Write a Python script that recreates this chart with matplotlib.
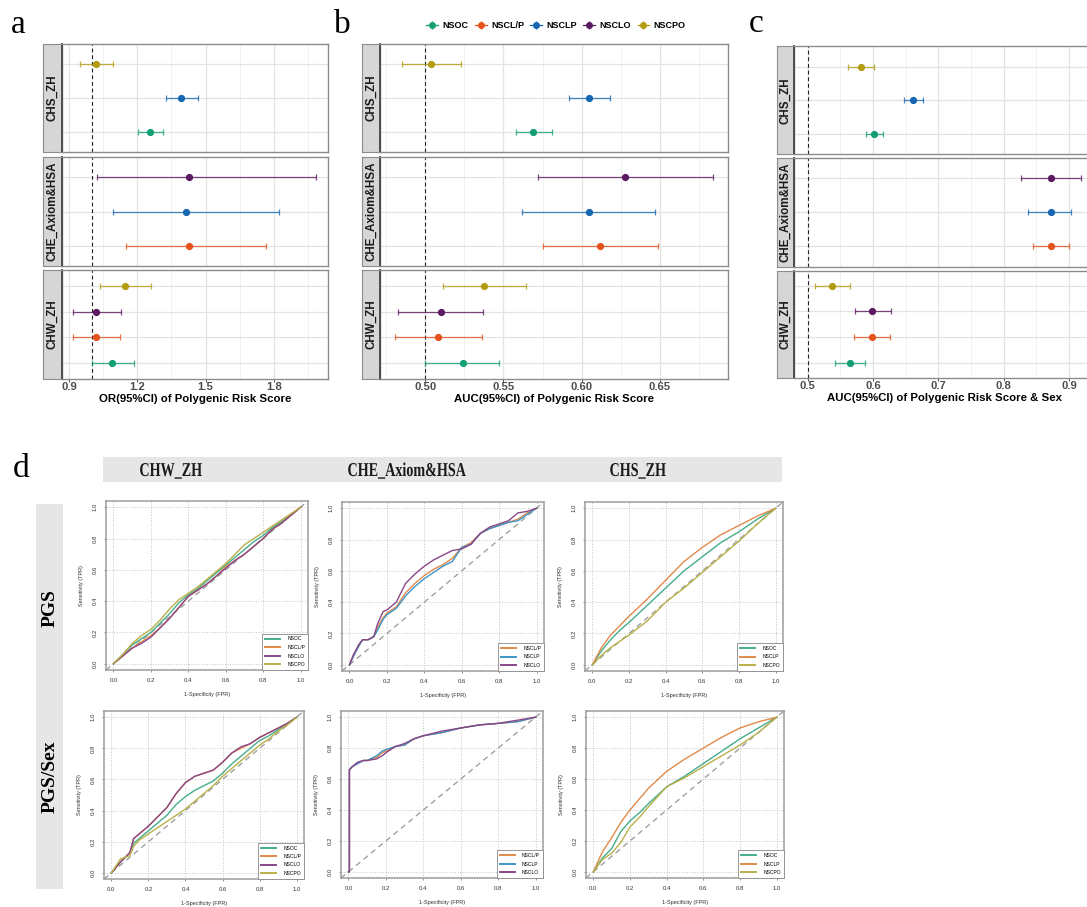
import matplotlib.pyplot as plt
from matplotlib.lines import Line2D
from matplotlib.patches import Rectangle, PathPatch
from matplotlib.textpath import TextPath
from matplotlib.font_manager import FontProperties
from matplotlib.transforms import Affine2D
from matplotlib.legend_handler import HandlerTuple

plt.rcParams['font.family'] = ['Liberation Sans', 'DejaVu Sans']

W, H = 1087, 907

# ---------------- forest plots (a, b, c) ----------------
facets = ['CHS_ZH', 'CHE_Axiom&HSA', 'CHW_ZH']
groups = ['NSOC', 'NSCL/P', 'NSCLP', 'NSCLO', 'NSCPO']
group_colors = ['#139f75', '#e5521d', '#1667b2', '#5c1a60', '#b39c12']

# one row per estimate, bottom to top inside each facet
row_facet = ['CHS_ZH', 'CHS_ZH', 'CHS_ZH',
             'CHE_Axiom&HSA', 'CHE_Axiom&HSA', 'CHE_Axiom&HSA',
             'CHW_ZH', 'CHW_ZH', 'CHW_ZH', 'CHW_ZH']
row_group = ['NSOC', 'NSCLP', 'NSCPO',
             'NSCL/P', 'NSCLP', 'NSCLO',
             'NSOC', 'NSCL/P', 'NSCLO', 'NSCPO']

# a: OR of PRS
or_mid = [1.256, 1.394, 1.017, 1.425, 1.413, 1.426, 1.089, 1.017, 1.020, 1.145]
or_lo = [1.202, 1.324, 0.948, 1.151, 1.095, 1.023, 1.001, 0.918, 0.918, 1.038]
or_hi = [1.313, 1.467, 1.092, 1.766, 1.822, 1.986, 1.186, 1.126, 1.129, 1.262]

# b: AUC of PRS
auc_mid = [0.5688, 0.6047, 0.5038, 0.6120, 0.6047, 0.6278, 0.5239, 0.5079, 0.5100, 0.5378]
auc_lo = [0.5577, 0.5919, 0.4848, 0.5756, 0.5618, 0.5718, 0.5000, 0.4808, 0.4823, 0.5111]
auc_hi = [0.5808, 0.6180, 0.5231, 0.6489, 0.6468, 0.6840, 0.5470, 0.5361, 0.5368, 0.5641]

# c: AUC of PRS & sex
auc_sex_mid = [0.6018, 0.6616, 0.5818, 0.872, 0.872, 0.872, 0.5655, 0.5982, 0.5992, 0.5379]
auc_sex_lo = [0.5895, 0.6478, 0.5619, 0.845, 0.838, 0.827, 0.5425, 0.5711, 0.5721, 0.5118]
auc_sex_hi = [0.6146, 0.6760, 0.6013, 0.900, 0.904, 0.918, 0.5885, 0.6253, 0.6269, 0.5650]

# ---------------- ROC curves (d) ----------------
teal, orange, blue, purple, olive = '#45ad8c', '#e08a4c', '#3c96c8', '#8a4787', '#b8b04a'

# PGS row
chw_pgs_fpr = [0, .05, .1, .15, .2, .25, .3, .35, .4, .45, .5, .55, .6, .65, .7, .75, .8, .85, .9, .95, 1]
chw_pgs_nsoc = [0, .06, .12, .16, .20, .26, .32, .39, .44, .48, .53, .58, .63, .68, .73, .78, .82, .87, .91, .95, 1]
chw_pgs_nscl_p = [0, .05, .10, .14, .18, .23, .29, .36, .43, .47, .51, .56, .62, .66, .70, .75, .80, .86, .90, .95, 1]
chw_pgs_nsclo = [0, .05, .10, .13, .17, .23, .29, .36, .43, .47, .51, .56, .61, .66, .70, .75, .80, .86, .90, .95, 1]
chw_pgs_nscpo = [0, .06, .13, .18, .22, .28, .35, .41, .45, .49, .54, .59, .64, .70, .76, .80, .84, .88, .92, .96, 1]

che_pgs_fpr = [0, .02, .05, .07, .1, .13, .15, .18, .2, .25, .3, .35, .4, .45, .5, .55, .6, .65, .7, .75, .8, .85, .9, .95, 1]
che_pgs_nscl_p = [0, .06, .12, .16, .16, .18, .24, .30, .33, .37, .46, .52, .57, .61, .64, .68, .75, .78, .84, .87, .89, .91, .93, .97, 1]
che_pgs_nsclp = [0, .05, .12, .16, .16, .18, .22, .29, .32, .36, .44, .50, .55, .59, .63, .66, .75, .77, .84, .87, .89, .91, .92, .96, 1]
che_pgs_nsclo = [0, .06, .13, .16, .16, .18, .26, .34, .35, .40, .52, .58, .63, .67, .70, .73, .74, .77, .84, .88, .90, .92, .97, .98, 1]

chs_pgs_fpr = [0, .05, .1, .15, .2, .3, .4, .5, .6, .7, .8, .9, 1]
chs_pgs_nsoc = [0, .09, .16, .22, .27, .38, .49, .60, .69, .78, .85, .93, 1]
chs_pgs_nsclp = [0, .11, .19, .25, .31, .42, .54, .66, .75, .83, .89, .95, 1]
chs_pgs_nscpo = [0, .06, .11, .15, .19, .28, .40, .49, .59, .69, .79, .90, 1]

# PGS/Sex row
chw_sex_fpr = [0, .05, .1, .12, .15, .2, .25, .3, .35, .4, .45, .5, .55, .6, .65, .7, .75, .8, .85, .9, .95, 1]
chw_sex_nsoc = [0, .07, .13, .19, .22, .27, .32, .37, .44, .49, .53, .56, .59, .64, .70, .75, .80, .85, .88, .92, .96, 1]
chw_sex_nscl_p = [0, .07, .13, .22, .25, .30, .36, .42, .51, .58, .62, .64, .66, .71, .77, .80, .83, .87, .90, .93, .96, 1]
chw_sex_nsclo = [0, .07, .13, .22, .25, .30, .36, .42, .51, .58, .62, .64, .66, .71, .77, .81, .83, .87, .90, .93, .96, 1]
chw_sex_nscpo = [0, .09, .11, .17, .21, .25, .29, .33, .37, .41, .46, .51, .56, .62, .67, .72, .77, .82, .86, .91, .95, 1]

che_sex_fpr = [0, .005, .005, .02, .05, .08, .1, .15, .18, .2, .25, .3, .35, .4, .5, .6, .7, .8, .9, 1]
che_sex_nscl_p = [0, 0, .66, .68, .70, .72, .72, .74, .77, .78, .81, .82, .86, .88, .90, .93, .95, .96, .97, 1]
che_sex_nsclp = [0, 0, .66, .68, .70, .72, .72, .75, .78, .79, .81, .82, .86, .88, .90, .93, .95, .96, .97, 1]
che_sex_nsclo = [0, 0, .66, .68, .71, .72, .72, .73, .75, .77, .81, .83, .86, .88, .91, .93, .95, .96, .98, 1]

chs_sex_fpr = [0, .05, .1, .15, .2, .25, .3, .4, .5, .6, .7, .8, .9, 1]
chs_sex_nsoc = [0, .09, .15, .26, .33, .38, .44, .55, .62, .70, .78, .86, .93, 1]
chs_sex_nsclp = [0, .13, .22, .32, .40, .47, .54, .65, .73, .80, .87, .93, .97, 1]
chs_sex_nscpo = [0, .08, .12, .19, .29, .35, .42, .55, .61, .68, .75, .82, .90, 1]

fig = plt.figure(figsize=(W / 100, H / 100), dpi=100)


def px_axes(x0, y0, x1, y1):
    return fig.add_axes([x0 / W, 1 - y1 / H, (x1 - x0) / W, (y1 - y0) / H])


def forest_panel(strip_x0, x0, x1, facet_y, mid, lo, hi, xlim, majors, labels, minors, ref, xlabel):
    for k, f in enumerate(facets):
        y0, y1 = facet_y[k]
        ax = px_axes(x0, y0, x1, y1)
        rows = [i for i in range(len(row_facet)) if row_facet[i] == f]
        for j, i in enumerate(rows):
            col = group_colors[groups.index(row_group[i])]
            ax.errorbar([mid[i]], [j], xerr=[[mid[i] - lo[i]], [hi[i] - mid[i]]], fmt='none',
                        ecolor=col, elinewidth=0.9, capsize=2.2, capthick=0.9, alpha=0.8, zorder=3)
            ax.plot([mid[i]], [j], 'o', color=col, ms=4.2, zorder=4)
        ax.axvline(ref, color='#222222', ls=(0, (3.5, 2.5)), lw=0.8, zorder=2)
        ax.set_xlim(xlim)
        ax.set_ylim(-0.6, len(rows) - 0.4)
        ax.set_yticks(range(len(rows)))
        ax.set_xticks(majors)
        ax.set_xticks(minors, minor=True)
        ax.grid(True, which='major', color='#e3e3e3', lw=0.9)
        ax.grid(True, which='minor', axis='x', color='#efefef', lw=0.6)
        ax.set_axisbelow(True)
        ax.tick_params(axis='y', length=0, labelleft=False)
        ax.tick_params(axis='x', which='minor', length=0)
        for s in ax.spines.values():
            s.set_color('#8c8c8c')
            s.set_linewidth(1.0)
        if k < 2:
            ax.tick_params(axis='x', length=0, labelbottom=False)
        else:
            ax.set_xticklabels(labels)
            ax.tick_params(axis='x', length=2, width=0.6, color='#333333', pad=0.5,
                           labelsize=8.1, labelcolor='#4d4d4d')
            for t in ax.get_xticklabels():
                t.set_fontweight('bold')
            ax.set_xlabel(xlabel, fontsize=8.2, fontweight='bold', labelpad=1)
        st = px_axes(strip_x0, y0, x0, y1)
        st.set_facecolor('#d6d6d6')
        st.set_xticks([])
        st.set_yticks([])
        for s in st.spines.values():
            s.set_color('#8c8c8c')
        st.spines['right'].set_color('#444444')
        st.spines['right'].set_linewidth(1.3)
        st.text(0.5, 0.5, f, rotation=90, ha='center', va='center', transform=st.transAxes,
                fontsize=8.4, fontweight='bold', color='#1a1a1a')


facet_y_ab = [(44, 152), (157, 266), (270, 379)]
forest_panel(43, 62, 328, facet_y_ab, or_mid, or_lo, or_hi, (0.869, 2.038),
             [0.9, 1.2, 1.5, 1.8], ['0.9', '1.2', '1.5', '1.8'], [1.05, 1.35, 1.65, 1.95],
             1.0, 'OR(95%CI) of Polygenic Risk Score')
forest_panel(362, 380, 728, facet_y_ab, auc_mid, auc_lo, auc_hi, (0.4709, 0.6938),
             [0.50, 0.55, 0.60, 0.65], ['0.50', '0.55', '0.60', '0.65'], [0.475, 0.525, 0.575, 0.625, 0.675],
             0.5, 'AUC(95%CI) of Polygenic Risk Score')
forest_panel(777, 794, 1095, [(46.5, 154), (158, 266.5), (270.5, 378)], auc_sex_mid, auc_sex_lo, auc_sex_hi,
             (0.479, 0.940), [0.5, 0.6, 0.7, 0.8, 0.9], ['0.5', '0.6', '0.7', '0.8', '0.9'],
             [0.55, 0.65, 0.75, 0.85], 0.5, 'AUC(95%CI) of Polygenic Risk Score & Sex')

# shared legend above b
handles = [(Line2D([], [], color=c, marker='|', ms=6, mew=0.9, ls='none'),
            Line2D([], [], color=c, marker='o', ms=4, lw=0.9)) for c in group_colors]
fig.legend(handles, groups, handler_map={tuple: HandlerTuple(ndivide=1)}, loc='center',
           bbox_to_anchor=(556 / W, 1 - 26 / H), ncol=5, frameon=False,
           prop={'weight': 'bold', 'size': 6.5}, handlelength=1.3, handletextpad=0.5, columnspacing=0.7)

# panel letters
for letter, x, y in [('a', 18, 33), ('b', 342, 33), ('c', 756, 32), ('d', 21, 477)]:
    fig.text(x / W, 1 - y / H, letter, family='Liberation Serif', fontsize=24, ha='center', va='baseline')


# ---------------- d: headers ----------------
def squeezed_text(s, cx, base_y, size_px, sx):
    fp = FontProperties(family='Liberation Serif', weight='bold')
    tp = TextPath((0, 0), s, size=size_px, prop=fp)
    bb = tp.get_extents()
    tr = (Affine2D().translate(-(bb.x0 + bb.x1) / 2, 0).scale(sx, 1)
          .translate(cx, H - base_y).scale(1 / fig.dpi) + fig.dpi_scale_trans)
    fig.add_artist(PathPatch(tp, transform=tr, facecolor='#1a1a1a', edgecolor='none'))


fig.add_artist(Rectangle((103 / W, 1 - 482 / H), 679 / W, 25 / H, transform=fig.transFigure,
                         facecolor='#e6e6e6', edgecolor='none'))
for name, cx in [('CHW_ZH', 171), ('CHE_Axiom&HSA', 407), ('CHS_ZH', 638)]:
    squeezed_text(name, cx, 476, 19.6, 0.72)

fig.add_artist(Rectangle((36 / W, 1 - 889 / H), 27 / W, 385 / H, transform=fig.transFigure,
                         facecolor='#e6e6e6', edgecolor='none'))
fig.text(50 / W, 1 - 608 / H, 'PGS', rotation=90, family='Liberation Serif', fontweight='bold',
         fontsize=14, ha='center', va='center')
fig.text(50 / W, 1 - 777 / H, 'PGS/Sex', rotation=90, family='Liberation Serif', fontweight='bold',
         fontsize=14, ha='center', va='center')


def roc_panel(box, fpr, curves, labels, colors):
    ax = px_axes(*box)
    ax.plot([-0.04, 1.04], [-0.04, 1.04], color='#a0a0a0', ls=(0, (4, 3)), lw=1.0)
    for y, lab, c in zip(curves, labels, colors):
        ax.plot(fpr, y, color=c, lw=1.0, label=lab)
    ax.set_xlim(-0.04, 1.04)
    ax.set_ylim(-0.04, 1.04)
    ticks = [0, 0.2, 0.4, 0.6, 0.8, 1.0]
    ticklabels = ['0.0', '0.2', '0.4', '0.6', '0.8', '1.0']
    ax.set_xticks(ticks)
    ax.set_xticklabels(ticklabels)
    ax.set_yticks(ticks)
    ax.set_yticklabels(ticklabels, rotation=90, va='center')
    ax.grid(True, color='#c4c4c4', ls=':', lw=0.7)
    ax.tick_params(labelsize=4.3, length=1.5, width=0.5, color='#666666', pad=4.3, labelcolor='#333333')
    ax.set_xlabel('1-Specificity (FPR)', fontsize=4.0, labelpad=6.5, color='#333333')
    ax.set_ylabel('Sensitivity (TPR)', fontsize=4.0, labelpad=6.5, color='#333333')
    for s in ax.spines.values():
        s.set_color('#9c9c9c')
        s.set_linewidth(1.1)
    leg = ax.legend(loc='lower right', fontsize=3.6, frameon=True, fancybox=False, edgecolor='#888888',
                    framealpha=1, borderaxespad=0, handlelength=3, handletextpad=1.5,
                    labelspacing=0.7, borderpad=0.6)
    leg.get_frame().set_linewidth(0.6)
    for ln in leg.get_lines():
        ln.set_linewidth(1.4)


roc_panel((106, 501, 308, 670), chw_pgs_fpr,
          [chw_pgs_nsoc, chw_pgs_nscl_p, chw_pgs_nsclo, chw_pgs_nscpo],
          ['NSOC', 'NSCL/P', 'NSCLO', 'NSCPO'], [teal, orange, purple, olive])
roc_panel((342, 502, 544, 671), che_pgs_fpr,
          [che_pgs_nscl_p, che_pgs_nsclp, che_pgs_nsclo],
          ['NSCL/P', 'NSCLP', 'NSCLO'], [orange, blue, purple])
roc_panel((585, 502, 783, 671), chs_pgs_fpr,
          [chs_pgs_nsoc, chs_pgs_nsclp, chs_pgs_nscpo],
          ['NSOC', 'NSCLP', 'NSCPO'], [teal, orange, olive])
roc_panel((104, 711, 304, 879), chw_sex_fpr,
          [chw_sex_nsoc, chw_sex_nscl_p, chw_sex_nsclo, chw_sex_nscpo],
          ['NSOC', 'NSCL/P', 'NSCLO', 'NSCPO'], [teal, orange, purple, olive])
roc_panel((341, 711, 543, 878), che_sex_fpr,
          [che_sex_nscl_p, che_sex_nsclp, che_sex_nsclo],
          ['NSCL/P', 'NSCLP', 'NSCLO'], [orange, blue, purple])
roc_panel((586, 711, 784, 878), chs_sex_fpr,
          [chs_sex_nsoc, chs_sex_nsclp, chs_sex_nscpo],
          ['NSOC', 'NSCLP', 'NSCPO'], [teal, orange, olive])

fig.savefig('out.png', dpi=100)
